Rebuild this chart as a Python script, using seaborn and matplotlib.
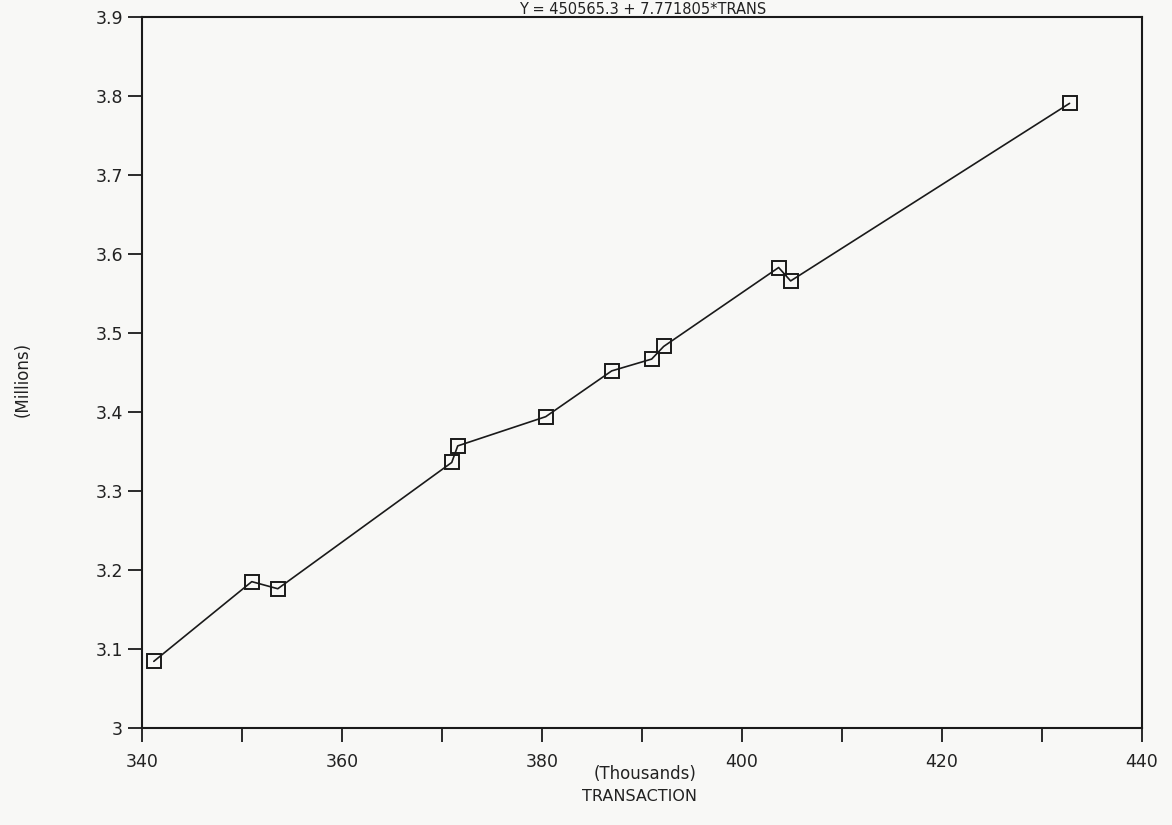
import pandas as pd
import matplotlib
matplotlib.use("Agg")
import matplotlib.pyplot as plt
import matplotlib.ticker as mticker
import seaborn as sns

# --- data ---
transaction = [341.2, 351.0, 353.6, 371.0, 371.6, 380.4, 387.0, 391.0,
               392.2, 403.7, 404.9, 432.8]          # thousands
tonnage = [3.084, 3.185, 3.176, 3.336, 3.357, 3.394, 3.452, 3.467,
           3.483, 3.583, 3.566, 3.791]               # millions
x_ticks = [340, 360, 380, 400, 420, 440]
y_ticks = [3.0, 3.1, 3.2, 3.3, 3.4, 3.5, 3.6, 3.7, 3.8, 3.9]
equation = "Y = 450565.3 + 7.771805*TRANS"

df = pd.DataFrame({"TRANSACTION": transaction, "Y": tonnage})

sns.set_theme(style="ticks")
plt.rcParams["font.family"] = ["DejaVu Sans"]

bg = "#f8f8f6"
fig = plt.figure(figsize=(11.72, 8.25), dpi=100, facecolor=bg)
ax = fig.add_axes([0.121, 0.118, 0.853, 0.861])
ax.set_facecolor(bg)

sns.lineplot(data=df, x="TRANSACTION", y="Y", ax=ax, sort=False,
             color="#1a1a1a", linewidth=1.2, marker="s", markersize=10,
             markerfacecolor="none", markeredgecolor="#1a1a1a",
             markeredgewidth=1.4)

ax.set_xlim(340, 440)
ax.set_ylim(3.0, 3.9)
ax.set_xticks(x_ticks)
ax.xaxis.set_minor_locator(mticker.MultipleLocator(10))
ax.set_yticks(y_ticks)
ax.yaxis.set_major_formatter(mticker.FormatStrFormatter("%g"))

for s in ax.spines.values():
    s.set_visible(True)
    s.set_linewidth(1.5)
    s.set_color("#1a1a1a")

ax.tick_params(axis="both", which="both", direction="out", length=10,
               width=1.3, color="#1a1a1a", labelsize=12.5, labelcolor="#222222")
ax.tick_params(axis="x", pad=8)

ax.set_xlabel("")
ax.set_ylabel("")

fig.text(0.55, 0.062, "(Thousands)", ha="center", va="center",
         fontsize=12, color="#222222")
fig.text(0.546, 0.034, "TRANSACTION", ha="center", va="center",
         fontsize=11.5, color="#222222")
fig.text(0.019, 0.54, "(Millions)", ha="center", va="center",
         rotation=90, fontsize=12, color="#222222")
# equation sits in the thin strip above the frame (cut off in the scan)
fig.text(0.548, 0.983, equation, ha="center", va="baseline",
         fontsize=10.5, color="#222222")

fig.savefig("out.png", dpi=100, facecolor=bg)
